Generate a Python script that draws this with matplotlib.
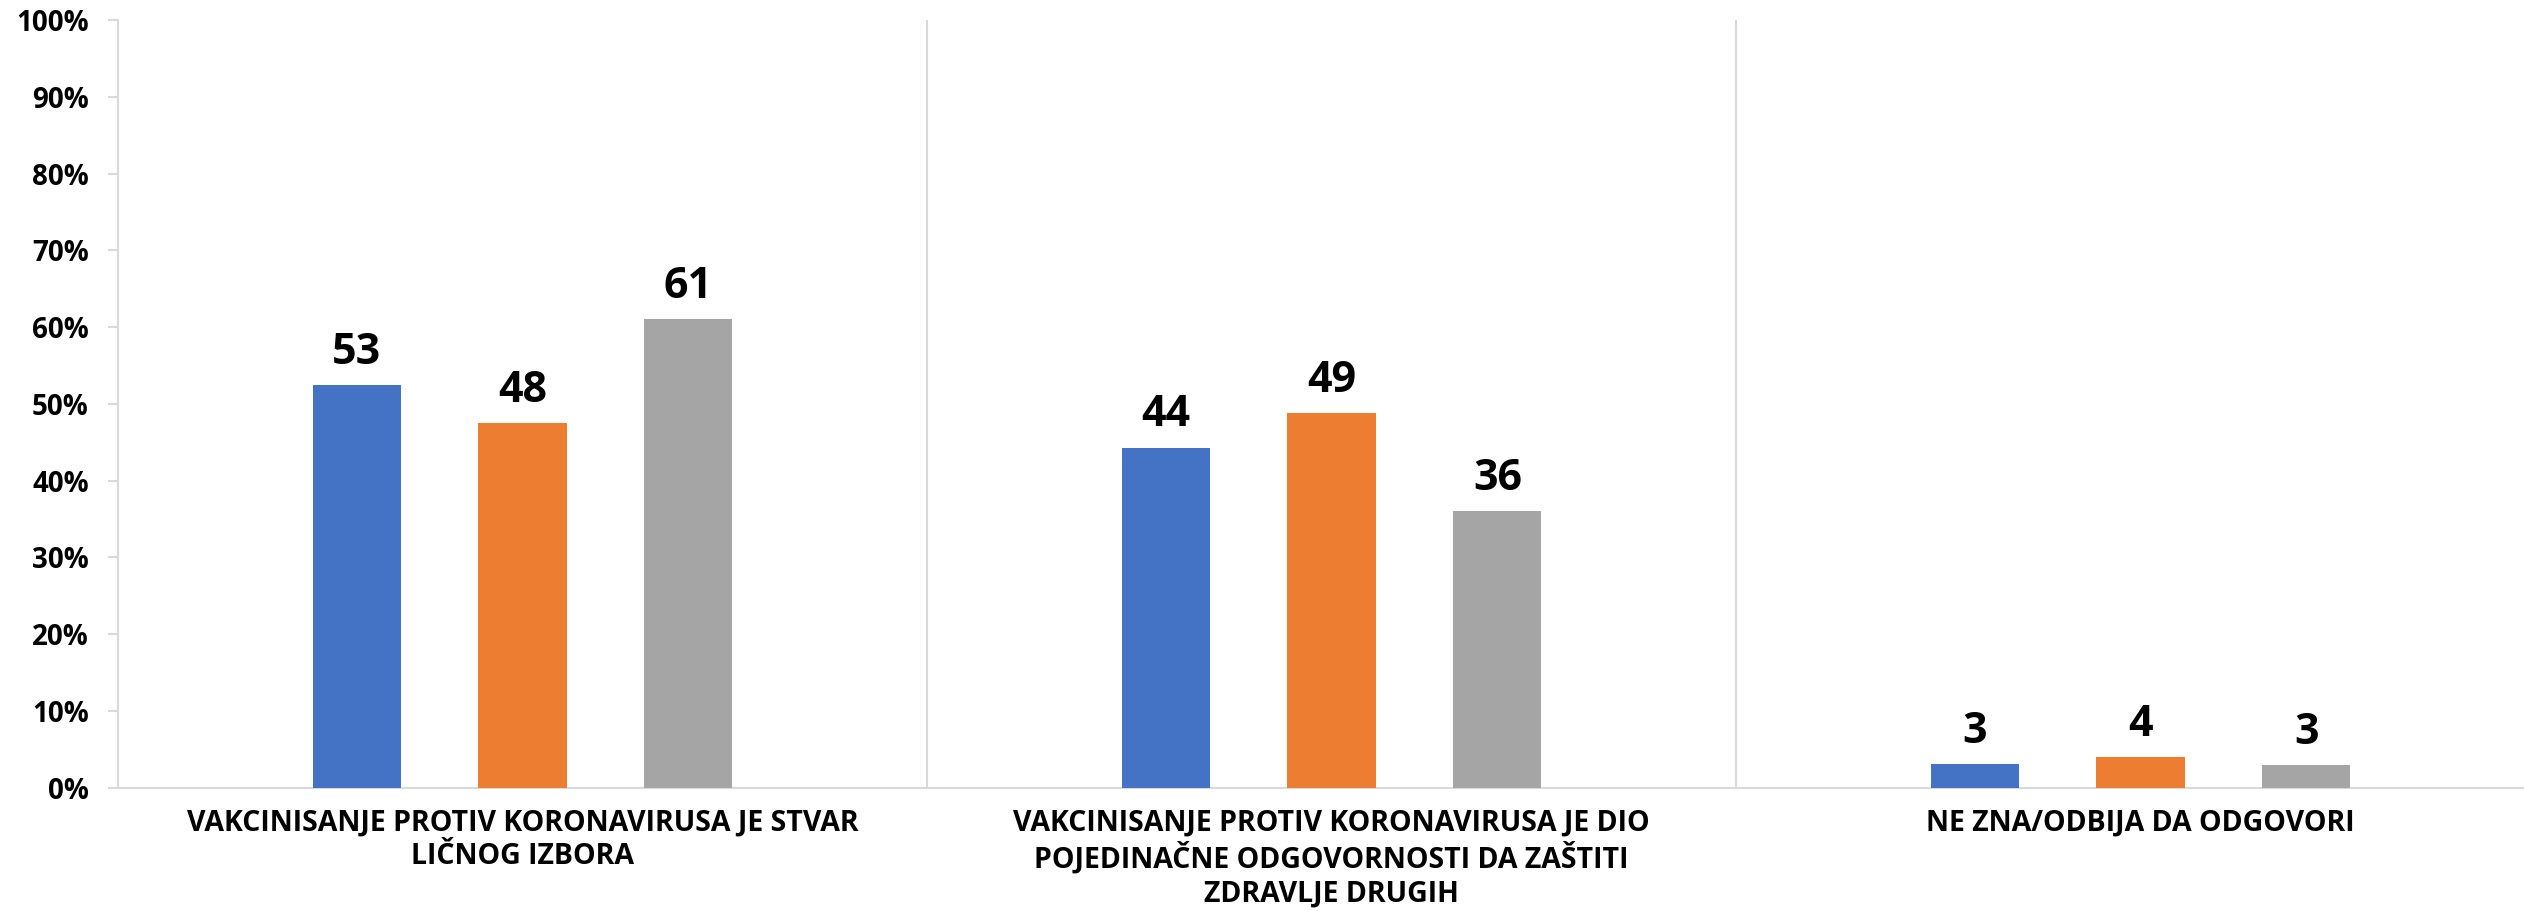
import numpy as np
import matplotlib
matplotlib.use('Agg')
import matplotlib.pyplot as plt

plt.rcParams['font.family'] = ['Open Sans', 'DejaVu Sans']
plt.rcParams['font.weight'] = 'bold'

# categories (x axis groups)
categories = [
    'VAKCINISANJE PROTIV KORONAVIRUSA JE STVAR\nLIČNOG IZBORA',
    'VAKCINISANJE PROTIV KORONAVIRUSA JE DIO\nPOJEDINAČNE ODGOVORNOSTI DA ZAŠTITI\nZDRAVLJE DRUGIH',
    'NE ZNA/ODBIJA DA ODGOVORI',
]
# three series, values in percent (bar heights) and printed labels
series_a = [52.5, 44.3, 3.1]
series_b = [47.5, 48.8, 4.0]
series_c = [61.0, 36.0, 3.0]
labels_a = ['53', '44', '3']
labels_b = ['48', '49', '4']
labels_c = ['61', '36', '3']
yticks = [0, 10, 20, 30, 40, 50, 60, 70, 80, 90, 100]

colors = ['#4472C4', '#ED7D31', '#A5A5A5']
grid_col = '#D9D9D9'

fig = plt.figure(figsize=(25.24, 9.11), dpi=100)
ax = fig.add_axes([118/2524, 123.3/911, 2427/2524, 767.7/911])

x = np.arange(len(categories))
offset = 0.205
width = 0.109
all_series = [(series_a, labels_a), (series_b, labels_b), (series_c, labels_c)]
for i, (vals, labs) in enumerate(all_series):
    xs = x + (i - 1) * offset
    ys = np.array(vals) / 100.0
    ax.bar(xs, ys, width, color=colors[i], zorder=3)
    for xx, yy, lab in zip(xs, ys, labs):
        ax.annotate(lab, (xx, yy), xytext=(0, 8), textcoords='offset points',
                    ha='center', va='bottom', fontsize=31, fontweight='bold')

# separators between groups
for sx in x[:-1] + 0.5:
    ax.axvline(sx, color=grid_col, lw=1.5, zorder=1)

ax.set_xlim(-0.5, len(categories) - 0.5)
ax.set_ylim(0, 1)
ax.set_yticks(np.array(yticks) / 100.0)
ax.set_yticklabels([f'{t}%' for t in yticks], fontsize=20, fontweight='bold')
ax.set_xticks(x)
ax.set_xticklabels(categories, fontsize=20.5, fontweight='bold', linespacing=1.2)

ax.spines['top'].set_visible(False)
ax.spines['right'].set_visible(False)
ax.spines['left'].set_color(grid_col)
ax.spines['bottom'].set_color(grid_col)
ax.spines['left'].set_linewidth(1.5)
ax.spines['bottom'].set_linewidth(1.5)
ax.tick_params(axis='y', length=7, width=1.5, color=grid_col, pad=14)
ax.tick_params(axis='x', length=0, pad=15)

fig.savefig('out.png', dpi=100)
